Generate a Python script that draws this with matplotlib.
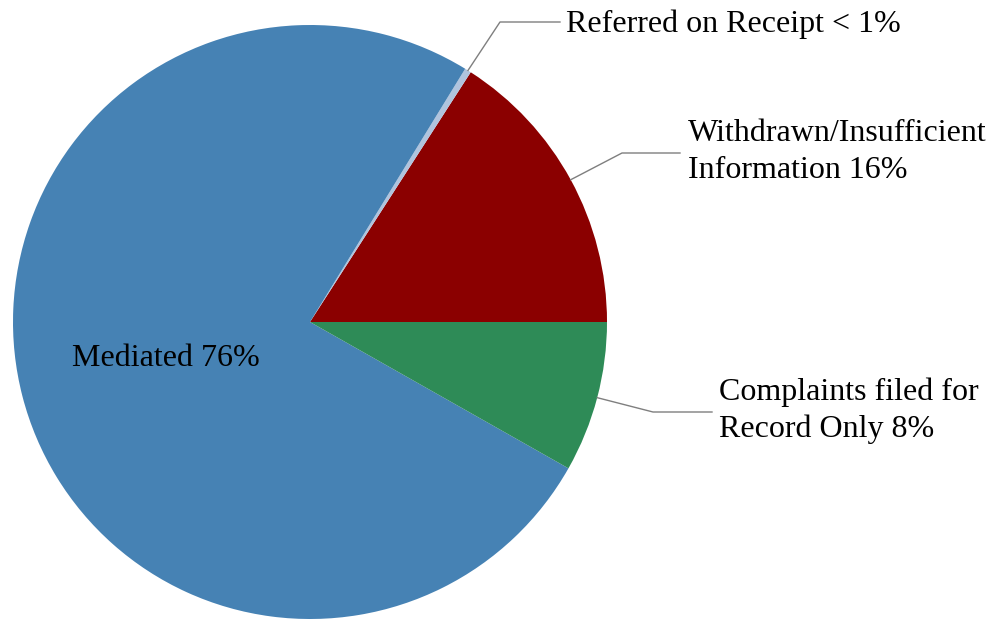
import numpy as np
import matplotlib.pyplot as plt

labels = ['Withdrawn/Insufficient\nInformation 16%', 'Referred on Receipt < 1%',
          'Mediated 76%', 'Complaints filed for\nRecord Only 8%']
values = [15.9, 0.35, 75.55, 8.2]
colors = ['#8B0000', '#B0C4DE', '#4682B4', '#2E8B57']

plt.rcParams['font.family'] = ['Liberation Serif', 'DejaVu Serif']

fig = plt.figure(figsize=(9.95, 6.2), dpi=100)
ax = fig.add_axes([0, 0, 1, 1])

cx, cy, r = 310, 298, 297
wedges, _ = ax.pie(values, colors=colors, startangle=0, counterclock=True,
                   center=(cx, cy), radius=r, frame=True)
ax.set_xlim(0, 995)
ax.set_ylim(0, 620)
ax.set_aspect('equal')
ax.axis('off')

# leader lines: elbow point, end of line, text position
leaders = {
    0: ((622, 467), (680, 467), (688, 468)),
    1: ((500, 598), (560, 598), (566, 596)),
    3: ((653, 208), (712, 208), (719, 209)),
}
for i, (elbow, end, txt) in leaders.items():
    w = wedges[i]
    ang = np.deg2rad((w.theta1 + w.theta2) / 2)
    x0, y0 = cx + r * np.cos(ang), cy + r * np.sin(ang)
    ax.plot([x0, elbow[0], end[0]], [y0, elbow[1], end[1]], color='#7f7f7f', lw=1)
    ax.text(txt[0], txt[1], labels[i], ha='left', va='center', fontsize=23,
            linespacing=1.33)

ax.text(72, 262, labels[2], ha='left', va='center', fontsize=23)

fig.savefig('out.png', dpi=100)
